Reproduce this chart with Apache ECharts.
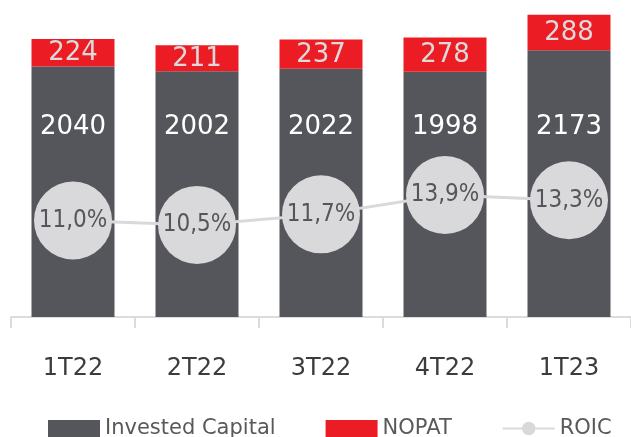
<!DOCTYPE html>
<html>
<head>
<meta charset="utf-8">
<script src="https://cdn.jsdelivr.net/npm/echarts@6/dist/echarts.min.js"></script>
<style>
html,body{margin:0;padding:0;background:#fff;}
#chart{width:631px;height:437px;}
</style>
</head>
<body>
<div id="chart"></div>
<script>
const categories = ['1T22', '2T22', '3T22', '4T22', '1T23'];
const investedCapital = [2040, 2002, 2022, 1998, 2173];
const nopat = [224, 211, 237, 278, 288];
const roic = [11.0, 10.5, 11.7, 13.9, 13.3];

const FONT = 'DejaVu Sans';
const DARK = '#55565b';
const RED = '#ec1c24';
const LIGHT = '#d9d9db';
const IC_LABEL_Y = 127;

const chart = echarts.init(document.getElementById('chart'), null, {renderer: 'canvas'});

function icData(offsets) {
  return investedCapital.map((v, i) => ({
    value: v,
    label: offsets ? {position: ['50%', offsets[i]]} : {}
  }));
}

const option = {
  animation: false,
  backgroundColor: '#ffffff',
  textStyle: {fontFamily: FONT},
  grid: {left: 11, right: -11, top: 10, bottom: 120, containLabel: false},
  legend: {
    left: 48, top: 418, padding: 0,
    itemWidth: 52, itemHeight: 17, itemGap: 50,
    textStyle: {fontFamily: FONT, fontSize: 21, color: '#595959'},
    data: [
      {name: 'Invested Capital', icon: 'rect'},
      {name: 'NOPAT', icon: 'rect'},
      {name: 'ROIC'}
    ]
  },
  xAxis: {
    type: 'category',
    data: categories,
    boundaryGap: true,
    axisLine: {show: true, lineStyle: {color: '#dcdcdc', width: 2}},
    axisTick: {show: true, length: 11, lineStyle: {color: '#dcdcdc', width: 2}},
    axisLabel: {fontFamily: FONT, fontSize: 24, color: '#3c3c3c', margin: 40}
  },
  yAxis: [
    {type: 'value', min: 0, max: 2500, show: false, splitLine: {show: false}},
    {type: 'value', min: 0, max: 35, show: false, splitLine: {show: false}}
  ],
  series: [
    {
      name: 'Invested Capital',
      type: 'bar',
      stack: 'total',
      barWidth: 83,
      itemStyle: {color: DARK},
      label: {
        show: true, position: 'insideTop', distance: 50,
        align: 'center', verticalAlign: 'middle',
        fontFamily: FONT, fontSize: 26, color: '#ffffff'
      },
      data: icData(null)
    },
    {
      name: 'NOPAT',
      type: 'bar',
      stack: 'total',
      barWidth: 83,
      itemStyle: {color: RED},
      label: {
        show: true, position: 'inside', offset: [0, 1],
        fontFamily: FONT, fontSize: 26, color: '#dadada'
      },
      data: nopat
    },
    {
      name: 'ROIC',
      type: 'line',
      yAxisIndex: 1,
      z: 5,
      symbol: 'circle',
      symbolSize: 78,
      itemStyle: {color: LIGHT},
      lineStyle: {color: LIGHT, width: 3},
      label: {
        show: true, position: 'inside',
        fontFamily: '"DejaVu Sans Condensed", "DejaVu Sans"', fontSize: 24, color: DARK,
        formatter: p => p.value.toFixed(1).replace('.', ',') + '%'
      },
      data: roic
    }
  ]
};

chart.setOption(option);

// place the invested-capital labels at a common height, as in the reference
const offsets = investedCapital.map((v, i) => {
  const top = chart.convertToPixel({xAxisIndex: 0, yAxisIndex: 0}, [i, v])[1];
  return IC_LABEL_Y - top;
});
chart.setOption({series: [{data: icData(offsets)}]});
</script>
</body>
</html>
